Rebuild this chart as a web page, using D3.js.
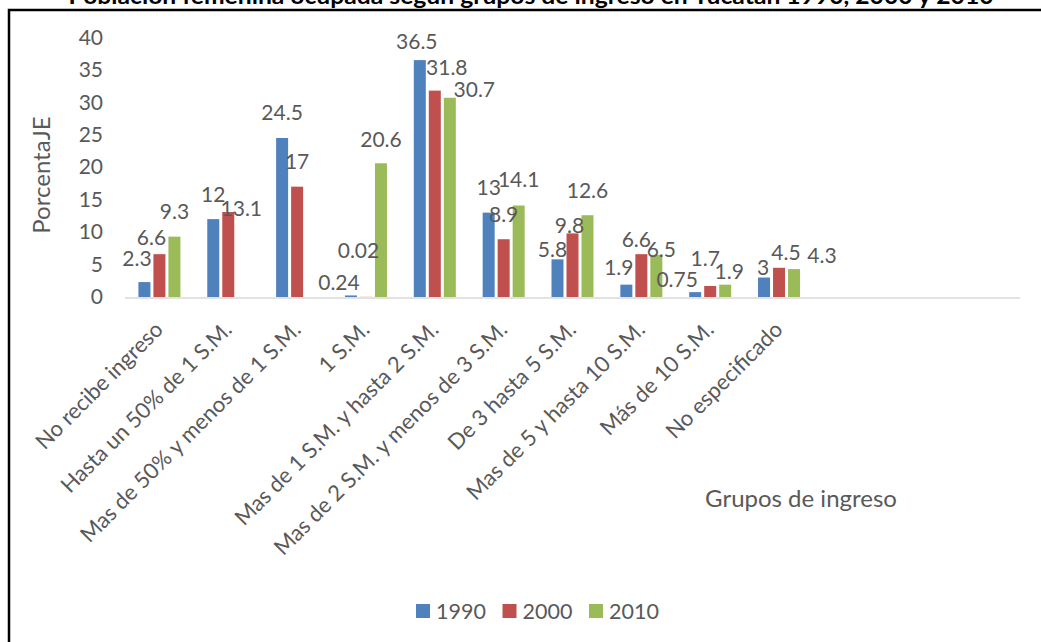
<!DOCTYPE html>
<html>
<head>
<meta charset="utf-8">
<script src="https://cdn.jsdelivr.net/npm/d3@7"></script>
<style>
  body { margin: 0; background: #fff; }
  svg text { font-family: Lato, "Open Sans", sans-serif; fill: #595959; }
</style>
</head>
<body>
<svg id="chart" width="1041" height="642"></svg>
<script>
// Income groups (Excel sheet had 13 rows on the axis, the last 3 empty)
var categories = ["No recibe ingreso", "Hasta un 50% de 1 S.M.", "Mas de 50% y menos de 1 S.M.", "1 S.M.",
    "Mas de 1 S.M. y hasta 2 S.M.", "Mas de 2 S.M. y menos de 3 S.M.", "De 3 hasta 5 S.M.",
    "Mas de 5 y hasta 10 S.M.", "Más de 10 S.M.", "No especificado"];
var slotCount = 13;
var years = ["1990", "2000", "2010"];
var v1990 = [2.3, 12, 24.5, 0.24, 36.5, 13, 5.8, 1.9, 0.75, 3];
var v2000 = [6.6, 13.1, 17, 0.02, 31.8, 8.9, 9.8, 6.6, 1.7, 4.5];
var v2010 = [9.3, null, null, 20.6, 30.7, 14.1, 12.6, 6.5, 1.9, 4.3];
var yTicks = [0, 5, 10, 15, 20, 25, 30, 35, 40];

// where each data label sits relative to its bar top: [dx, rise]
var off1990 = [[-7.5,16],[0,17],[0,18],[-12,5],[-3,11],[0,18],[-5,2],[-7.5,10],[-18,5],[-1,2.5]];
var off2000 = [[-8,9],[13,-4],[0,18],[-7.5,39],[12,16],[0,17],[-3,0],[-5,7],[-5,20],[7,8]];
var off2010 = [[0,17.6],null,null,[0,16],[24.5,1],[0,18.5],[0,17],[5,-2],[4,6],[28,6]];

var colors = ["#4F81BD", "#C0504D", "#9BBB59"];
var series = [v1990, v2000, v2010];
var offsets = [off1990, off2000, off2010];

var svg = d3.select("#chart");

// chart frame (runs off the right/bottom edge)
svg.append("rect")
    .attr("x", 9).attr("y", 10)
    .attr("width", 1100).attr("height", 700)
    .attr("fill", "none").attr("stroke", "#000").attr("stroke-width", 2.5);

// title, mostly cut off at the top like the source
svg.append("text")
    .attr("x", 531).attr("y", 4)
    .attr("text-anchor", "middle")
    .attr("textLength", 925).attr("lengthAdjust", "spacingAndGlyphs")
    .style("font-weight", "bold").style("font-size", "22px").style("fill", "#000")
    .text("Población femenina ocupada según grupos de ingreso en Yucatán 1990, 2000 y 2010");

var x = d3.scaleBand().domain(d3.range(slotCount)).range([125, 1020]);
var xs = d3.scaleBand().domain(d3.range(years.length)).range([-22.5, 22.5]);
var y = d3.scaleLinear().domain([0, 40]).range([297, 37.4]);

// y axis labels only
var yAxis = svg.append("g")
    .attr("transform", "translate(110,0)")
    .call(d3.axisLeft(y).tickValues(yTicks).tickSize(0).tickPadding(7));
yAxis.select(".domain").remove();
yAxis.selectAll("text").style("font-size", "21px").style("fill", "#595959");

// category axis line
svg.append("line")
    .attr("x1", x.range()[0]).attr("x2", x.range()[1])
    .attr("y1", y(0) + 1).attr("y2", y(0) + 1)
    .attr("stroke", "#D9D9D9").attr("stroke-width", 1.5);

// bars
series.forEach(function(vals, s) {
    svg.append("g").selectAll("rect")
        .data(vals.map(function(v, i) { return {i: i, v: v}; }).filter(function(d) { return d.v != null; }))
        .enter().append("rect")
        .attr("x", function(d) { return x(d.i) + x.bandwidth() / 2 + xs(s) + 1.5; })
        .attr("width", xs.bandwidth() - 3)
        .attr("y", function(d) { return y(d.v); })
        .attr("height", function(d) { return y(0) - y(d.v); })
        .attr("fill", colors[s]);
});

// data labels
series.forEach(function(vals, s) {
    svg.append("g").selectAll("text")
        .data(vals.map(function(v, i) { return {i: i, v: v, o: offsets[s][i]}; }).filter(function(d) { return d.v != null; }))
        .enter().append("text")
        .attr("x", function(d) { return x(d.i) + x.bandwidth() / 2 + xs(s) + xs.bandwidth() / 2 + d.o[0]; })
        .attr("y", function(d) { return y(d.v) - d.o[1]; })
        .attr("text-anchor", "middle")
        .style("font-size", "21px")
        .text(function(d) { return d.v; });
});

// rotated category labels
svg.append("g").selectAll("text")
    .data(categories)
    .enter().append("text")
    .attr("transform", function(d, i) {
        return "translate(" + (x(i) + x.bandwidth() / 2 + 5) + ",331) rotate(-45)";
    })
    .attr("text-anchor", "end")
    .style("font-size", "22px")
    .text(function(d) { return d; });

// axis titles
svg.append("text")
    .attr("transform", "translate(50,175) rotate(-90)")
    .attr("text-anchor", "middle")
    .style("font-size", "24px")
    .text("PorcentaJE");

svg.append("text")
    .attr("x", 801).attr("y", 507)
    .attr("text-anchor", "middle")
    .style("font-size", "24px")
    .text("Grupos de ingreso");

// legend
var legend = svg.append("g").selectAll("g")
    .data(years)
    .enter().append("g")
    .attr("transform", function(d, i) { return "translate(" + (416 + i * 86.5) + ",604)"; });
legend.append("rect")
    .attr("width", 14).attr("height", 14)
    .attr("fill", function(d, i) { return colors[i]; });
legend.append("text")
    .attr("x", 20).attr("y", 14.5)
    .style("font-size", "21.5px")
    .text(function(d) { return d; });
</script>
</body>
</html>
